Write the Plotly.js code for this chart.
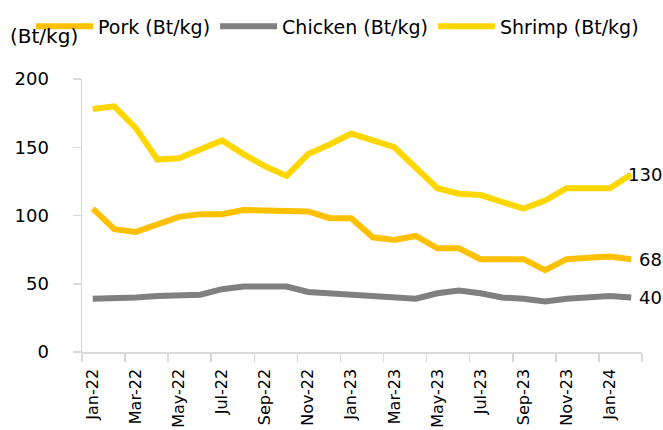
<!DOCTYPE html>
<html>
<head>
<meta charset="utf-8">
<script src="https://cdn.plot.ly/plotly-3.0.1.min.js"></script>
<style>
  body { margin: 0; padding: 0; background: #fff; }
  #chart { width: 663px; height: 430px; }
</style>
</head>
<body>
<div id="chart"></div>
<script>
// monthly prices, Jan-22 .. Feb-24
const months = ['Jan-22', 'Feb-22', 'Mar-22', 'Apr-22', 'May-22', 'Jun-22', 'Jul-22', 'Aug-22',
  'Sep-22', 'Oct-22', 'Nov-22', 'Dec-22', 'Jan-23', 'Feb-23', 'Mar-23', 'Apr-23', 'May-23',
  'Jun-23', 'Jul-23', 'Aug-23', 'Sep-23', 'Oct-23', 'Nov-23', 'Dec-23', 'Jan-24', 'Feb-24'];

const pork = [105, 90, 88, 93, 99, 101, 101, 104, 104, 104, 103, 98, 98, 84, 82, 85, 76, 76,
  68, 68, 68, 60, 68, 69, 70, 68];
const chicken = [39, 39, 40, 41, 42, 42, 46, 48, 48, 48, 44, 43, 42, 40, 39, 39, 43, 45, 43,
  40, 39, 37, 39, 40, 41, 40];
const shrimp = [178, 180, 164, 141, 142, 148, 155, 145, 136, 129, 145, 152, 160, 155, 150, 135,
  120, 116, 115, 110, 105, 111, 120, 120, 120, 130];

const yTicks = [0, 50, 100, 150, 200];

const xs = months.map((m, i) => i);
const last = months.length - 1;

const font = 'DejaVu Sans, sans-serif';

function line(name, ys, color) {
  return {
    x: xs, y: ys, name: name, type: 'scatter', mode: 'lines',
    line: {color: color, width: 6},
    hoverinfo: 'skip'
  };
}

const data = [
  line('Pork (Bt/kg)', pork, '#FFC000'),
  line('Chicken (Bt/kg)', chicken, '#808080'),
  line('Shrimp (Bt/kg)', shrimp, '#FFD700')
];

// end-of-series value labels, right aligned
const endLabels = [pork, chicken, shrimp].map(arr => ({
  x: last, y: arr[last], xref: 'x', yref: 'y',
  text: String(arr[last]), xanchor: 'right', yanchor: 'middle', xshift: 33,
  showarrow: false, font: {family: font, size: 18, color: '#000'}
}));

// label every second month, tick marks on category boundaries
const labelIdx = xs.filter(i => i % 2 === 0);
const boundaries = [];
for (let i = -0.5; i <= last + 0.5; i += 2) boundaries.push(i);

const layout = {
  width: 663, height: 430,
  margin: {l: 82, r: 21, t: 79, b: 78, autoexpand: false},
  paper_bgcolor: '#fff', plot_bgcolor: '#fff',
  font: {family: font, size: 18, color: '#000'},
  showlegend: true,
  legend: {
    orientation: 'h',
    x: -0.091, y: 1.262, xanchor: 'left', yanchor: 'top',
    itemwidth: 57, tracegroupgap: 0,
    font: {family: font, size: 19, color: '#000'},
    bgcolor: 'rgba(0,0,0,0)'
  },
  xaxis: {
    range: [-0.5, last + 0.5],
    tickmode: 'array', tickvals: labelIdx, ticktext: labelIdx.map(i => months[i]),
    tickangle: -90, ticks: '', ticklabelstandoff: 9,
    tickfont: {family: font, size: 16, color: '#000'},
    minor: {tickmode: 'array', tickvals: boundaries, ticks: 'outside', ticklen: 8,
      tickcolor: '#d9d9d9', tickwidth: 1.5, showgrid: false},
    showline: true, linecolor: '#d9d9d9', linewidth: 1.5,
    showgrid: false, zeroline: false, automargin: false
  },
  yaxis: {
    range: [0, 200], tickvals: yTicks,
    ticks: 'outside', ticklen: 8, tickcolor: '#d9d9d9', tickwidth: 1.5,
    ticklabelstandoff: 20,
    tickfont: {family: font, size: 18, color: '#000'},
    showline: true, linecolor: '#d9d9d9', linewidth: 1.5,
    showgrid: false, zeroline: false, automargin: false
  },
  annotations: [{
    text: '(Bt/kg)', xref: 'paper', yref: 'paper',
    x: -0.132, y: 1.1575, xanchor: 'left', yanchor: 'middle',
    showarrow: false, font: {family: font, size: 20, color: '#000'}
  }].concat(endLabels)
};

Plotly.newPlot('chart', data, layout, {displayModeBar: false, staticPlot: true});
</script>
</body>
</html>
